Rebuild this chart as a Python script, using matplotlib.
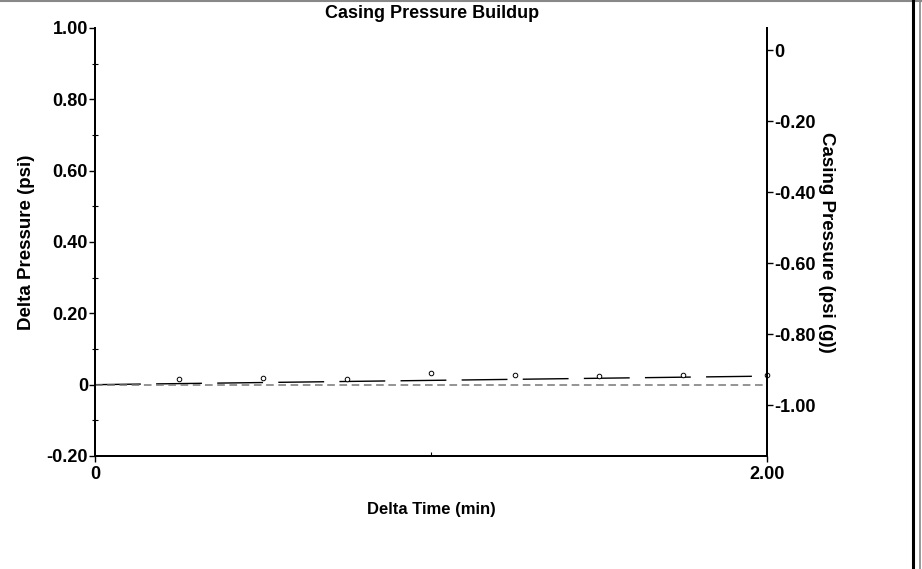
import matplotlib
matplotlib.use('Agg')
import matplotlib.pyplot as plt
from matplotlib.lines import Line2D
from matplotlib.ticker import FixedLocator, MultipleLocator

plt.rcParams['font.family'] = ['Liberation Sans', 'DejaVu Sans']
plt.rcParams['font.weight'] = 'bold'

# delta pressure measurements (psi)
point_time = [0, 0.25, 0.5, 0.75, 1.0, 1.25, 1.5, 1.75, 2.0]
point_dp = [0, 0.015, 0.018, 0.016, 0.033, 0.028, 0.025, 0.028, 0.026]

# trend line through the delta pressure
trend_time = [0, 2.0]
trend_dp = [0, 0.024]

# casing pressure (psi g), right axis
casing_time = [0, 0.25, 0.5, 0.75, 1.0, 1.25, 1.5, 1.75, 2.0]
casing_p = [-0.943, -0.943, -0.943, -0.943, -0.943, -0.943, -0.943, -0.943, -0.943]

left_ticks = [-0.2, 0, 0.2, 0.4, 0.6, 0.8, 1.0]
left_labels = ['-0.20', '0', '0.20', '0.40', '0.60', '0.80', '1.00']
right_ticks = [0, -0.2, -0.4, -0.6, -0.8, -1.0]
right_labels = ['0', '-0.20', '-0.40', '-0.60', '-0.80', '-1.00']
x_ticks = [0, 2.0]
x_labels = ['0', '2.00']

fig = plt.figure(figsize=(9.22, 5.69), dpi=100)
ax = fig.add_axes([95 / 922, 1 - 456 / 569, 672 / 922, 428 / 569])
ax2 = ax.twinx()

ax.plot(trend_time, trend_dp, color='black', lw=1.0, dashes=(33, 11))
ax.plot(point_time[1:], point_dp[1:], linestyle='none', marker='o', ms=3.3,
        mfc='white', mec='black', mew=0.7, clip_on=False)
ax2.plot(casing_time, casing_p, color='#777777', lw=1.1, dashes=(5, 3))

ax.set_xlim(0, 2.0)
ax.set_ylim(-0.2, 1.0)
ax2.set_ylim(-1.143, 0.062)

ax.set_xticks(x_ticks)
ax.set_xticklabels(x_labels)
ax.xaxis.set_minor_locator(FixedLocator([1.0]))
ax.set_yticks(left_ticks)
ax.set_yticklabels(left_labels)
ax.yaxis.set_minor_locator(MultipleLocator(0.1))
ax2.set_yticks(right_ticks)
ax2.set_yticklabels(right_labels)

for a in (ax, ax2):
    for s in a.spines.values():
        s.set_linewidth(1.4)
    a.spines['top'].set_visible(False)
    a.tick_params(which='major', length=4, width=1, labelsize=13, pad=1)
    a.tick_params(which='minor', length=4, width=0.8, direction='inout')
ax.tick_params(axis='x', which='minor', direction='in', length=3)
ax.tick_params(axis='x', which='major', pad=3)

ax.set_xlabel('Delta Time (min)', fontsize=12, fontweight='bold', labelpad=14)
ax.set_ylabel('Delta Pressure (psi)', fontsize=13.5, fontweight='bold', labelpad=8)
ax2.set_ylabel('Casing Pressure (psi (g))', fontsize=13.5, fontweight='bold',
               rotation=270, labelpad=14)
fig.text(432 / 922, 1 - 13 / 569, 'Casing Pressure Buildup', ha='center',
         va='center', fontsize=13, fontweight='bold')

# frame around the picture
fig.add_artist(Line2D([0, 1], [0.999, 0.999], color='#888888', lw=1.5))
fig.add_artist(Line2D([913 / 922, 913 / 922], [0, 1], color='black', lw=2.2))
fig.add_artist(Line2D([920 / 922, 920 / 922], [0, 1], color='#888888', lw=1.2))

plt.savefig('out.png', dpi=100)
